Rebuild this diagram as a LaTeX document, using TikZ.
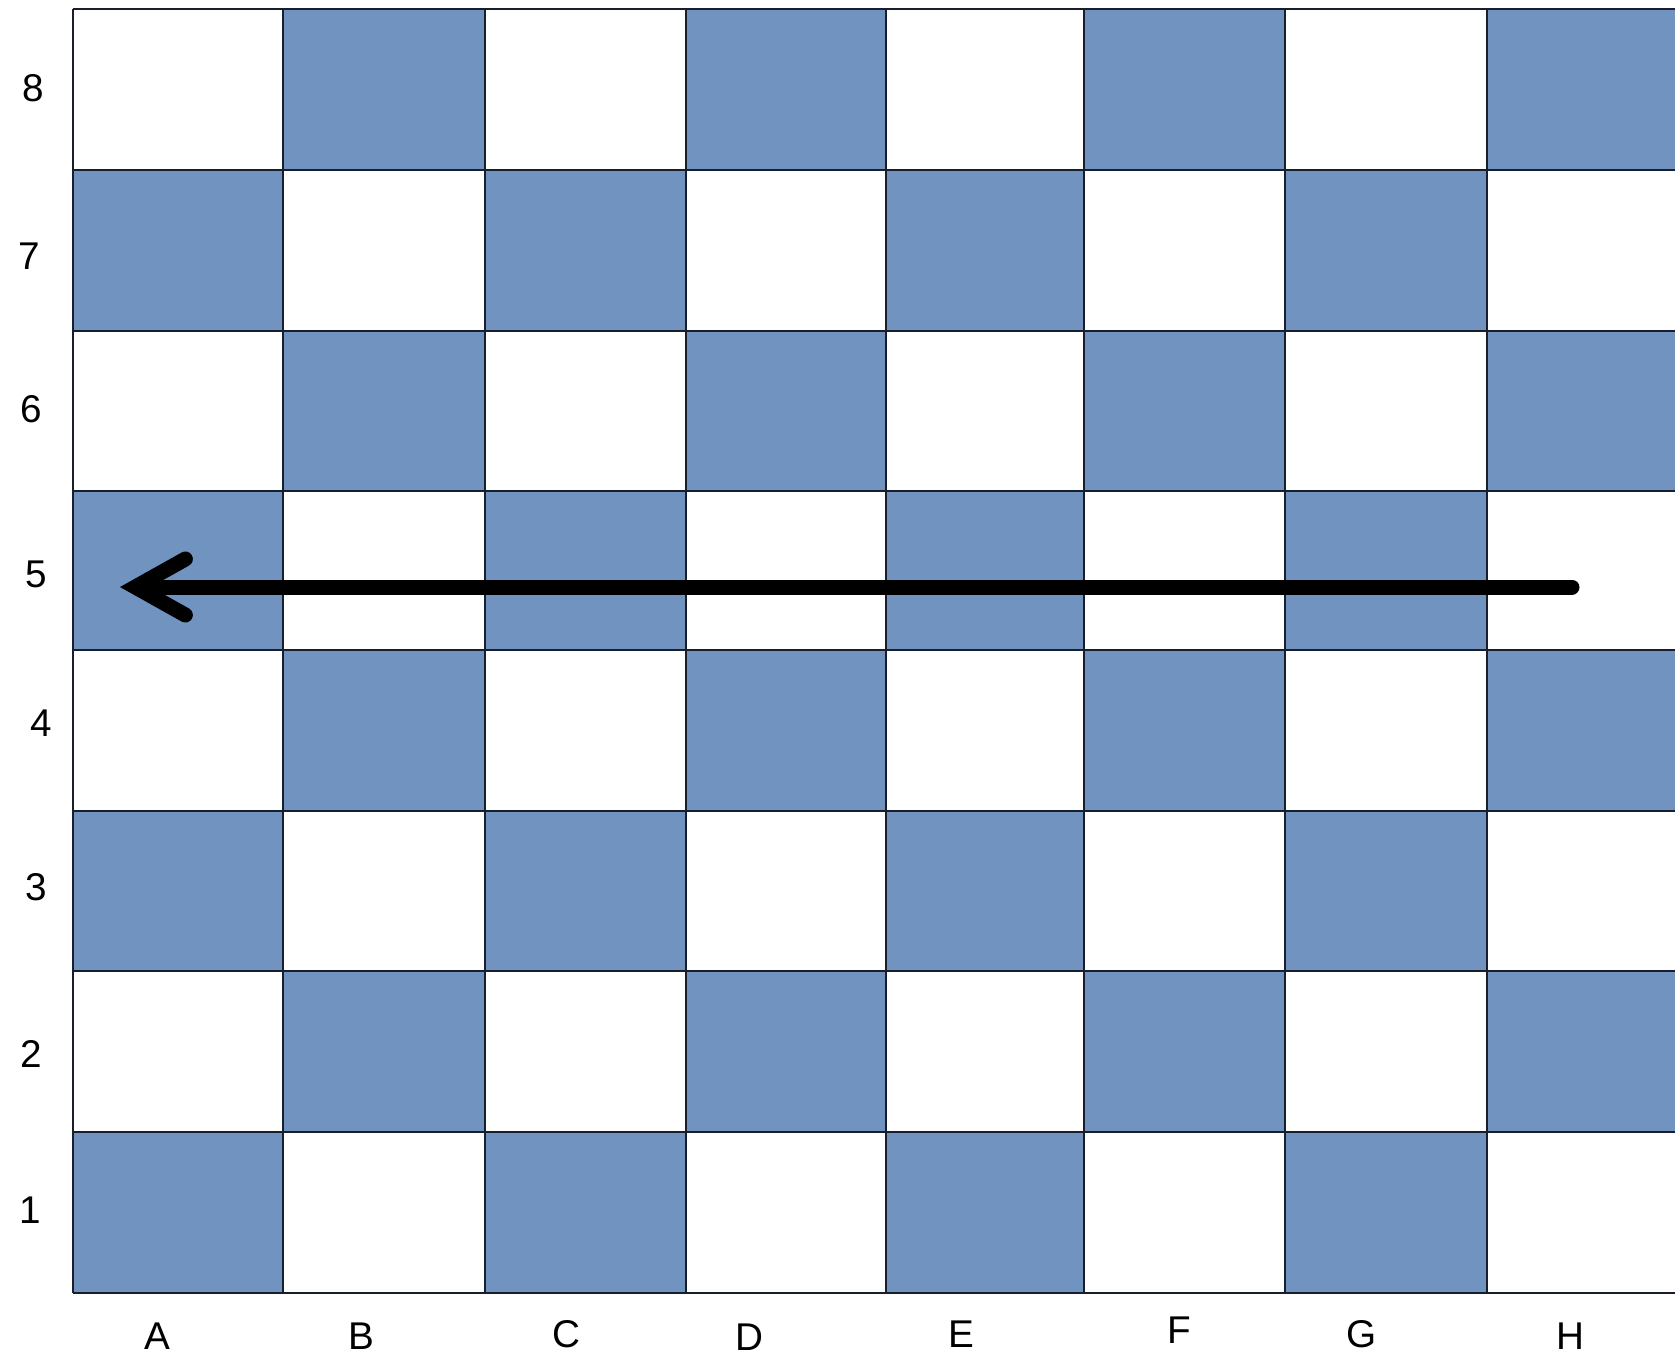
\documentclass[tikz,border=0pt]{standalone}
\usepackage{fontspec}
\setmainfont{Liberation Sans}
\usetikzlibrary{arrows.meta}

\definecolor{boardblue}{RGB}{112,147,192}
\definecolor{gridline}{RGB}{25,30,45}

\tikzset{
  darksq/.style={fill=boardblue},
  gridln/.style={gridline, line width=0.6pt},
  coordlabel/.style={font=\fontsize{11}{13}\selectfont, inner sep=0pt},
  rookmove/.style={black, line width=0.15cm, line cap=round,
    -{Straight Barb[length=0.5cm, width=0.56cm, line cap=round, line join=miter]}}
}

\begin{document}
\begin{tikzpicture}[x=0.01cm, y=-0.01cm]
                % Frame of the picture
                \useasboundingbox (0,0) rectangle (1675,1356);
                \clip (0,0) rectangle (1675,1356);

                % Dark squares of the board
                \foreach \xl/\xr [count=\i] in {73/283,283/485,485/686,686/886,886/1084,1084/1285,1285/1487,1487/1700}
                    \foreach \yt/\yb/\r in {9/170/8,170/331/7,331/491/6,491/650/5,650/811/4,811/971/3,971/1132/2,1132/1293/1}
                    {
                        \pgfmathtruncatemacro{\sqcol}{mod(\i+\r,2)}
                        \ifnum\sqcol=0
                            \fill[darksq] (\xl,\yt) rectangle (\xr,\yb);
                        \fi
                    }

                % Grid lines
                \foreach \x in {73,283,485,686,886,1084,1285,1487}
                    \draw[gridln] (\x,9) -- (\x,1293);
                \foreach \y in {9,170,331,491,650,811,971,1132,1293}
                    \draw[gridln] (73,\y) -- (1700,\y);

                % Files
                \foreach \x/\y/\f in {157/1336/A,361/1336/B,566/1334/C,749/1337/D,961/1334/E,1179/1330/F,1362/1334/G,1570/1336/H}
                    \node[coordlabel] (file\f) at (\x,\y) {\f};

                % Ranks
                \foreach \x/\y/\r in {33/88/8,29/256/7,31/409/6,36/574/5,41/723/4,36/887/3,31/1054/2,30/1210/1}
                    \node[coordlabel] (rank\r) at (\x,\y) {\r};

                % Move along the fifth rank
                \coordinate (h5) at (1572,587);
                \coordinate (a5) at (120,587);
                \draw[rookmove] (h5) -- (a5);
            \end{tikzpicture}
\end{document}
